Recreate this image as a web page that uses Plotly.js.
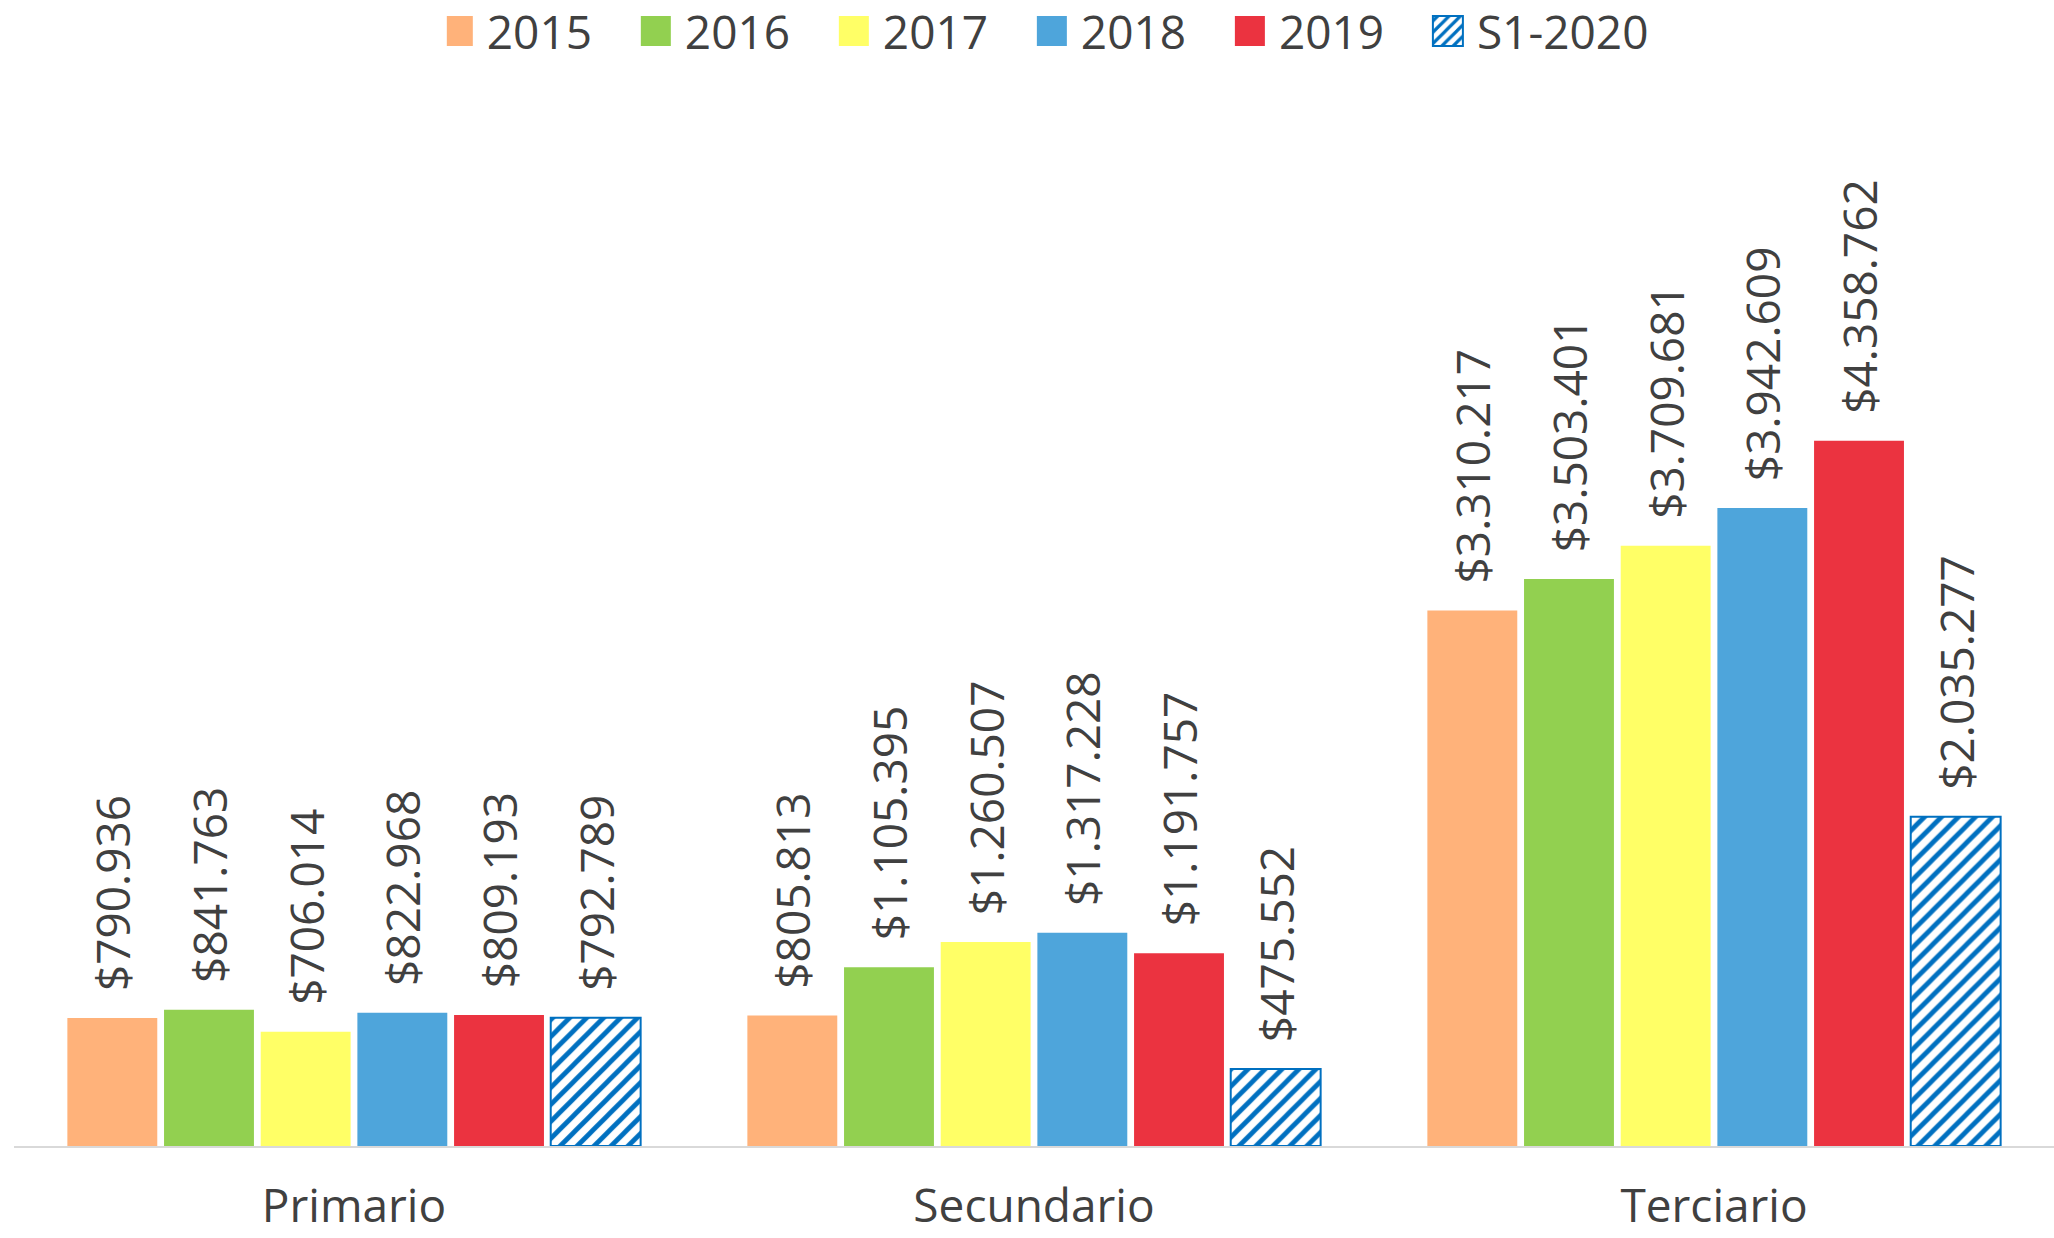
<!DOCTYPE html>
<html>
<head>
<meta charset="utf-8">
<script src="https://cdn.plot.ly/plotly-3.0.1.min.js"></script>
<style>html,body{margin:0;padding:0;background:#fff;}#chart{width:2054px;height:1238px;}</style>
</head>
<body>
<div id="chart"></div>
<script>
const categories = ["Primario", "Secundario", "Terciario"];
const seriesNames = ["2015", "2016", "2017", "2018", "2019", "S1-2020"];
const v2015 = [790936, 805813, 3310217];
const v2016 = [841763, 1105395, 3503401];
const v2017 = [706014, 1260507, 3709681];
const v2018 = [822968, 1317228, 3942609];
const v2019 = [809193, 1191757, 4358762];
const vS12020 = [792789, 475552, 2035277];
const seriesValues = [v2015, v2016, v2017, v2018, v2019, vS12020];
const colors = ["#FFB27A", "#92D050", "#FFFF66", "#4EA5DB", "#EB3340", "#0070C0"];

const FONT = "Open Sans";
const TXT = "#404040";
const PAD = "\u00a0\u00a0\u00a0\u00a0";

const traces = seriesNames.map((name, i) => {
  const t = {
    type: "bar",
    name: i < seriesNames.length - 1 ? name + PAD : name,
    x: categories,
    y: seriesValues[i],
    texttemplate: "\u00a0\u00a0$%{y:,.0f}",
    textposition: "outside",
    textangle: -90,
    constraintext: "none",
    cliponaxis: false,
    textfont: {family: FONT, size: 46, color: TXT},
    hoverinfo: "skip",
    marker: {color: colors[i], line: {width: 0}}
  };
  if (name === "S1-2020") {
    t.marker = {
      color: "#ffffff",
      line: {color: "#0070C0", width: 2},
      pattern: {shape: "/", fgcolor: "#0070C0", bgcolor: "#ffffff", size: 12, solidity: 0.4, fillmode: "replace"}
    };
  }
  return t;
});

const layout = {
  width: 2054,
  height: 1238,
  paper_bgcolor: "#ffffff",
  plot_bgcolor: "#ffffff",
  margin: {l: 14, r: 0, t: 80, b: 92, pad: 0},
  separators: ",.",
  barmode: "group",
  bargap: 0.147,
  bargroupgap: 0.07,
  font: {family: FONT, size: 46, color: TXT},
  showlegend: true,
  legend: {
    orientation: "h",
    x: 0.508, xanchor: "center",
    y: 1 - 31 / 1238, yref: "container", yanchor: "middle",
    font: {family: FONT, size: 46, color: TXT},
    traceorder: "normal",
    itemwidth: 30
  },
  xaxis: {
    type: "category",
    range: [-0.5, 2.5],
    showline: true,
    linecolor: "#D9D9D9",
    linewidth: 2,
    ticks: "",
    ticklabelstandoff: 19,
    showgrid: false,
    zeroline: false,
    automargin: false,
    tickfont: {family: FONT, size: 46, color: TXT}
  },
  yaxis: {
    range: [0, 6588000],
    visible: false,
    showgrid: false,
    zeroline: false,
    automargin: false
  }
};

Plotly.newPlot("chart", traces, layout, {displayModeBar: false, staticPlot: true}).then(function (gd) {
  // enlarge legend swatches to match the reference's bigger squares
  gd.querySelectorAll(".legend .legendpoints path").forEach(function (p) {
    p.setAttribute("d", "M6,15H-24V-15H6Z");
  });
});
</script>
</body>
</html>
